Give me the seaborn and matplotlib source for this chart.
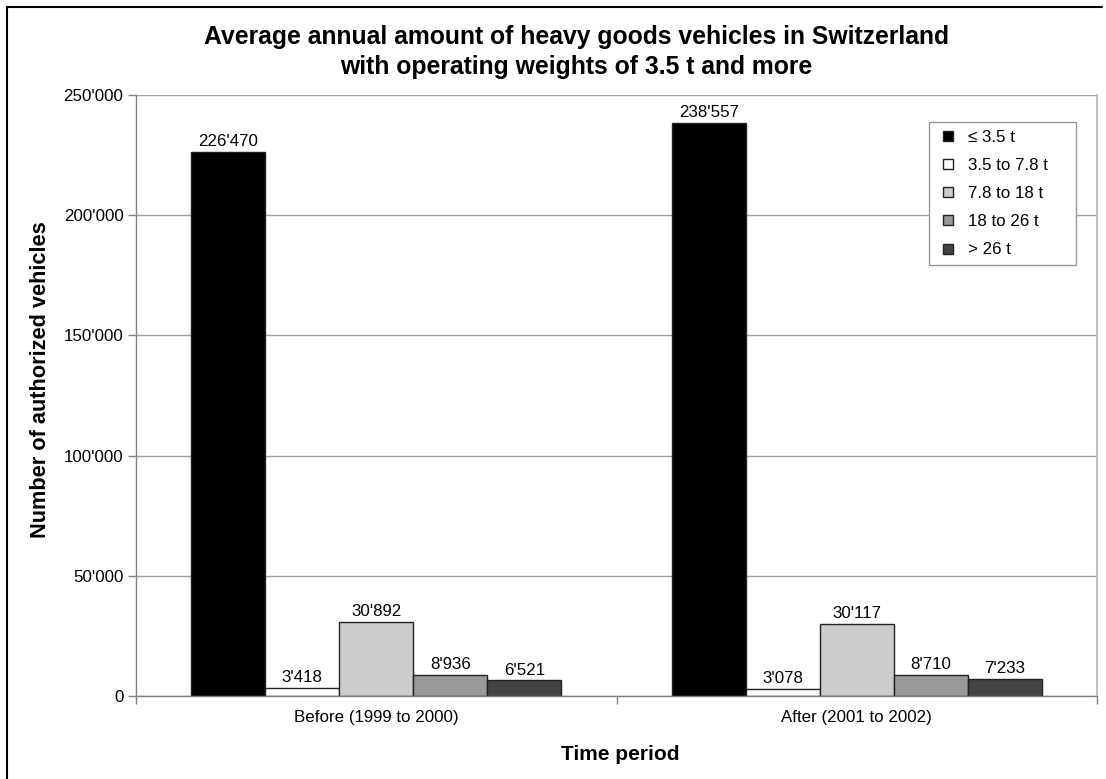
import matplotlib
matplotlib.use("Agg")
import matplotlib.pyplot as plt
import matplotlib.ticker as mticker
from matplotlib.lines import Line2D
import seaborn as sns
import pandas as pd

periods = ["Before (1999 to 2000)", "After (2001 to 2002)"]
weight_classes = ["\u2264 3.5 t", "3.5 to 7.8 t", "7.8 to 18 t", "18 to 26 t", "> 26 t"]
before_values = [226470, 3418, 30892, 8936, 6521]
after_values = [238557, 3078, 30117, 8710, 7233]
colors = ["#000000", "#FFFFFF", "#CCCCCC", "#999999", "#444444"]

rows = []
for p, vals in zip(periods, [before_values, after_values]):
    for c, v in zip(weight_classes, vals):
        rows.append({"period": p, "cls": c, "value": v})
df = pd.DataFrame(rows)

sns.set_theme(style="white")
plt.rcParams["font.family"] = ["Liberation Sans", "DejaVu Sans"]
plt.rcParams["text.color"] = "black"
plt.rcParams["axes.labelcolor"] = "black"

fig = plt.figure(figsize=(11.06, 7.79), dpi=100)
ax = fig.add_axes([136/1106, 1-696/779, (1097-136)/1106, (696-95)/779])

sns.barplot(data=df, x="period", y="value", hue="cls", order=periods,
            hue_order=weight_classes, palette=colors, width=0.77, gap=0,
            edgecolor="#222222", linewidth=1.0, saturation=1, ax=ax,
            errorbar=None)

fmt = lambda v: f"{int(v):,}".replace(",", "'")
for cont in ax.containers:
    ax.bar_label(cont, labels=[fmt(b.get_height()) for b in cont], padding=2,
                 fontsize=12.2, color="black")

ax.set_ylim(0, 250000)
ax.set_xlim(-0.5, 1.5)
ax.yaxis.set_major_locator(mticker.MultipleLocator(50000))
ax.yaxis.set_major_formatter(mticker.FuncFormatter(lambda v, p: fmt(v)))
ax.grid(axis="y", color="#A0A0A0", linewidth=1.0)
ax.set_axisbelow(True)
ax.spines["top"].set_visible(False)
ax.spines["left"].set_color("#808080")
ax.spines["bottom"].set_color("#808080")
ax.spines["right"].set_color("#C0C0C0")
ax.spines["right"].set_linewidth(1.5)
for s in ["left", "bottom"]:
    ax.spines[s].set_linewidth(1.0)

ax.tick_params(axis="y", which="major", left=True, length=6, width=1,
               color="#808080", labelsize=12.2, labelcolor="black", pad=3)
ax.tick_params(axis="x", which="major", length=0, labelsize=12.2,
               labelcolor="black", pad=10)
ax.set_xticks([-0.5, 0.5, 1.5], minor=True)
ax.tick_params(axis="x", which="minor", bottom=True, length=6, width=1,
               color="#808080")

ax.set_xlabel("Time period", fontsize=15.0, fontweight="bold", color="black")
ax.set_ylabel("Number of authorized vehicles", fontsize=15.7,
              fontweight="bold", color="black")
ax.xaxis.set_label_coords((620-136)/961, (696-755)/601)
ax.xaxis.label.set_verticalalignment("center")
ax.yaxis.set_label_coords((41-136)/961, (696-380)/601)
ax.yaxis.label.set_verticalalignment("center")

fig.suptitle("Average annual amount of heavy goods vehicles in Switzerland\n"
             "with operating weights of 3.5 t and more",
             x=576/1106, fontsize=17.8, fontweight="bold", y=0.968,
             linespacing=1.34, color="black")

handles = [Line2D([], [], marker="s", markersize=7.6, markerfacecolor=c,
                  markeredgecolor="#222222", markeredgewidth=1.0,
                  linestyle="none") for c in colors]
leg = ax.legend(handles, weight_classes, loc="upper left",
                bbox_to_anchor=(929/1106, 1-260/779, 147/1106, 138/779),
                bbox_transform=fig.transFigure, mode="expand",
                fontsize=12.2, frameon=True, fancybox=False,
                edgecolor="#999999", framealpha=1, handlelength=1.3,
                handletextpad=0.53, labelspacing=0.78, borderpad=0.45,
                borderaxespad=0)
leg.get_frame().set_linewidth(1.0)

fig.add_artist(Line2D([7/1106, 7/1106], [0, 1-7/779], transform=fig.transFigure,
                      color="black", linewidth=1.5))
fig.add_artist(Line2D([7/1106, 1102/1106], [1-7/779, 1-7/779],
                      transform=fig.transFigure, color="black", linewidth=1.5))

fig.savefig("out.png", dpi=100, facecolor="white")
